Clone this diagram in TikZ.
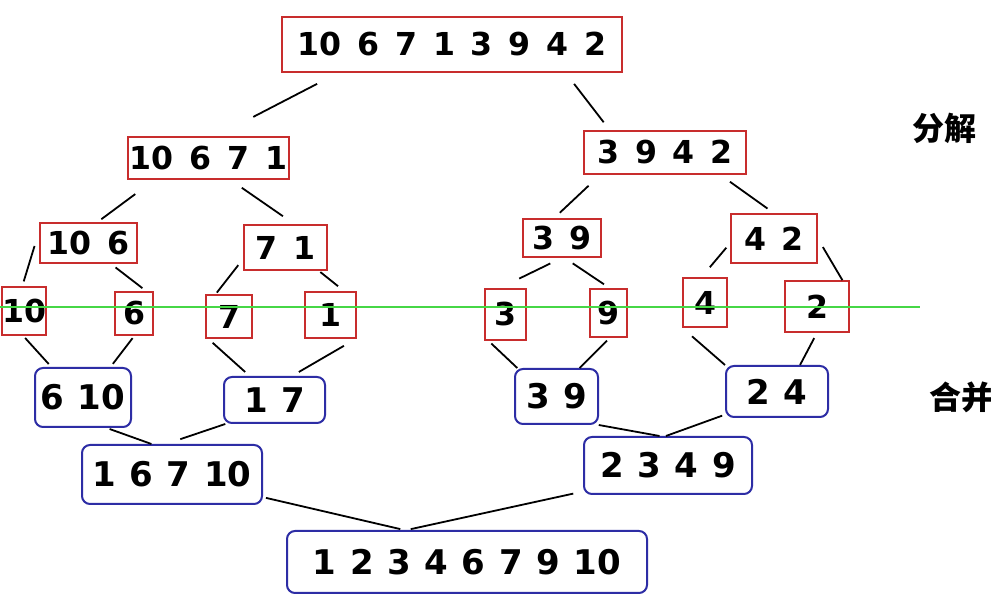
\documentclass[tikz,border=0pt]{standalone}
\usepackage{fontspec}
\setmainfont{DejaVu Sans}
\newfontfamily\cjk{Noto Sans CJK SC}

\definecolor{splitred}{RGB}{200,45,45}
\definecolor{mergeblue}{RGB}{45,45,165}
\definecolor{cutgreen}{RGB}{70,215,70}

\begin{document}
\begin{tikzpicture} [
    x=0.5pt, y=-0.5pt,
    dims/.style 2 args={minimum width=#1*0.5pt, minimum height=#2*0.5pt},
    split/.style={rectangle, draw=splitred, line width=0.8pt, inner sep=0pt,
      font={\bfseries\fontsize{15.8}{18}\selectfont\spaceskip=0.5em\relax}},
    merge/.style={rectangle, rounded corners=4pt, draw=mergeblue, line width=1pt, inner sep=0pt,
      font={\bfseries\fontsize{17}{20}\selectfont\spaceskip=0.4em\relax}},
    stage/.style={inner sep=0pt, font={\cjk\bfseries\fontsize{16}{18}\selectfont}},
    link/.style={draw, line width=0.9pt},
    gap/.style 2 args={shorten <=#1pt, shorten >=#2pt},
    cut/.style={draw=cutgreen, line width=1pt},
    ]
    \path [use as bounding box, fill=white] (0,0) rectangle (991,597);

    % split
    \node[split, dims={340}{55}] (top) at (452,44.5) {10 6 7 1 3 9 4 2};
    \node[split, dims={161}{42}] (a) at (208.5,158) {10 6 7 1};
    \node[split, dims={162}{43}] (b) at (665,152.5) {3 9 4 2};
    \node[split, dims={97}{40}] (aa) at (88.5,243) {10 6};
    \node[split, dims={83}{45}] (ab) at (285.5,247.5) {7 1};
    \node[split, dims={78}{38}] (ba) at (562,238) {3 9};
    \node[split, dims={86}{49}] (bb) at (774,238.5) {4 2};
    % single elements
    \node[split, dims={44}{48}] (l1) at (24,311) {10};
    \node[split, dims={38}{43}] (l2) at (134,313.5) {6};
    \node[split, dims={46}{43}] (l3) at (229,316.5) {7};
    \node[split, dims={51}{46}] (l4) at (330.5,315) {1};
    \node[split, dims={41}{51}] (l5) at (505.5,314.5) {3};
    \node[split, dims={37}{48}] (l6) at (608.5,313) {9};
    \node[split, dims={44}{49}] (l7) at (705,302.5) {4};
    \node[split, dims={64}{51}] (l8) at (817,306.5) {2};
    % merge
    \node[merge, dims={96}{59}] (m1) at (83,397.5) {6 10};
    \node[merge, dims={101}{46}] (m2) at (274.5,400) {1 7};
    \node[merge, dims={83}{55}] (m3) at (556.5,396.5) {3 9};
    \node[merge, dims={102}{51}] (m4) at (777,391.5) {2 4};
    \node[merge, dims={180}{59}] (n1) at (172,474.5) {1 6 7 10};
    \node[merge, dims={168}{57}] (n2) at (668,465.5) {2 3 4 9};
    \node[merge, dims={360}{62}] (root) at (467,562) {1 2 3 4 6 7 9 10};

    \node[stage] (fj) at (944,128.5) {分解};
    \node[stage, anchor=west] (hb) at (929,397) {合并};

    \path [link]
    (top.194) edge[gap={12}{21}] (a.71) (top.346) edge[gap={7}{5}] (b.158)
    (a.202) edge[gap={12}{2.5}] (aa.67) (a.315) edge[gap={7}{7}] (ab.69)
    (b.199) edge[gap={8}{4}] (ba.112) (b.338) edge[gap={6}{4}] (bb.90)
    (aa.166) edge[gap={8}{2.5}] (l1.94) (aa.317) edge[gap={3}{2.5}] (l2.61)
    (ab.195) edge[gap={4}{1}] (l3.121) (ab.325) edge[gap={1}{4}] (l4.60)
    (ba.270) edge[gap={6.5}{11}] (l5.103) (ba.277) edge[gap={5}{3.5}] (l6.87)
    (bb.186) edge[gap={3}{6.5}] (l7.98) (bb.0) edge[gap={5}{0}] (l8.46)
    (l1.268) edge[gap={1.5}{2}] (m1.136) (l2.271) edge[gap={1.5}{2}] (m1.48)
    (l3.227) edge[gap={3}{3}] (m2.136) (l4.317) edge[gap={7}{4}] (m2.54)
    (l5.237) edge[gap={2}{0}] (m3.144) (l6.273) edge[gap={2}{0}] (m3.51)
    (l7.228) edge[gap={6.5}{0}] (m4.153) (l8.270) edge[gap={3}{0}] (m4.49)
    (m1.308) edge[gap={1.5}{0}] (n1.124) (m2.206) edge[gap={0}{7.5}] (n1.101)
    (m3.326) edge[gap={0}{0}] (n2.106) (m4.204) edge[gap={1.5}{0}] (n2.94)
    (n1.346) edge[gap={1.5}{2}] (root.153) (n2.197) edge[gap={5}{2}] (root.152);

    % cut between split and merge
    \coordinate (cutL) at (0,307);
    \coordinate (cutR) at (920,307);
    \draw [cut] (cutL) -- (cutR);
  \end{tikzpicture}
\end{document}
